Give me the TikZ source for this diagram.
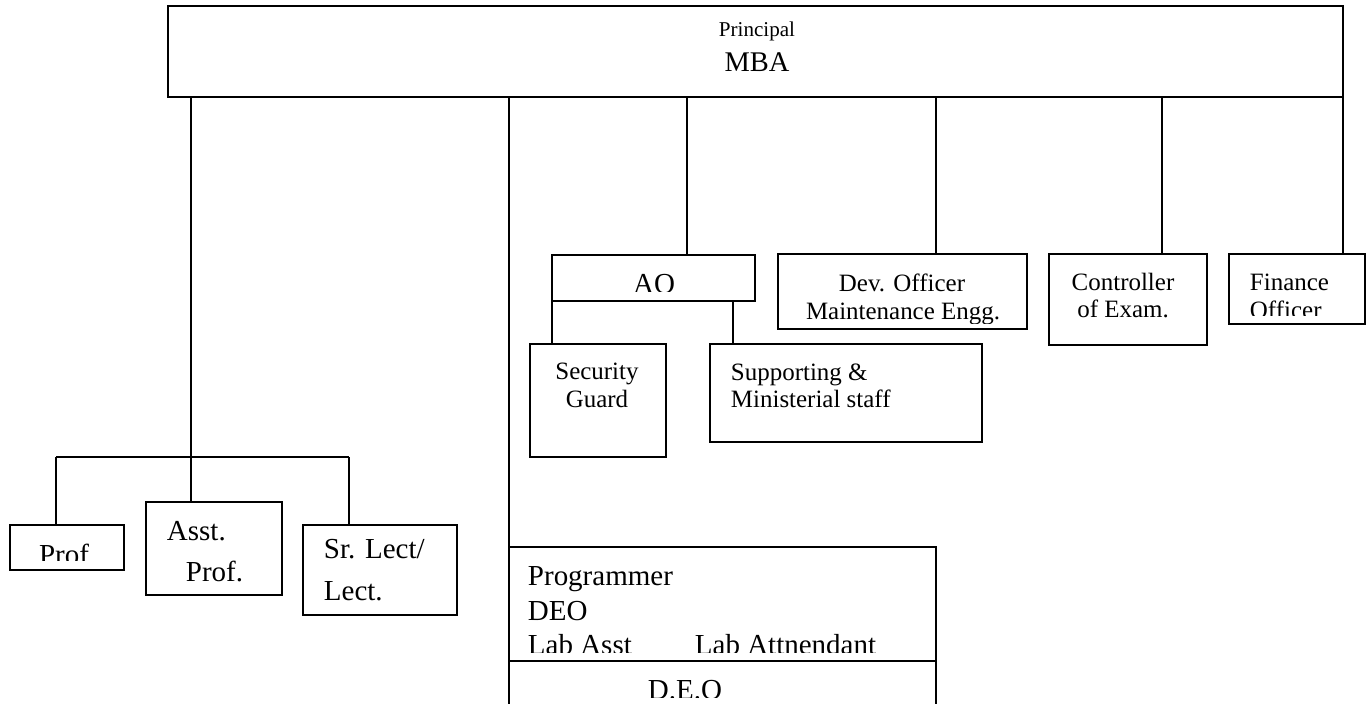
\documentclass[tikz,border=0pt]{standalone}
\usepackage{fontspec}
\setmainfont{Liberation Serif}
\usepackage{tikz}

\newcommand{\bigtxt}{\fontsize{16.5}{19}\selectfont}
\newcommand{\midtxt}{\fontsize{14.2}{17}\selectfont}

\begin{document}
\begin{tikzpicture}[x=0.2mm, y=-0.2mm, line width=1.1pt,
    box/.style={draw, line width=1.1pt, inner sep=0pt, outer sep=0pt, anchor=north west},
    lbl/.style={inner sep=0pt, anchor=base, font=\bigtxt},
    sml/.style={inner sep=0pt, anchor=base, font=\midtxt}]
  \useasboundingbox (0,0) rectangle (1367,704);

  % Principal
  \node[box, minimum width=235mm, minimum height=18.2mm] (mba) at (168,6) {};
  \node[sml, font=\fontsize{12}{14}\selectfont] (mbat1) at (757,37) {Principal};
  \node[lbl, font=\fontsize{16.2}{19}\selectfont] (mbat2) at (757,72) {MBA};

  % Teaching staff
  \node[box, minimum width=22.8mm, minimum height=9mm] (prof) at (10,525) {};
  \node[box, minimum width=27.2mm, minimum height=18.6mm] (asst) at (146,502) {};
  \node[box, minimum width=30.8mm, minimum height=18mm] (lect) at (303,525) {};
  \begin{scope}
    \clip (prof.north west) rectangle (prof.east |- 0,560);
    \node[lbl] (proft) at (64,564) {Prof};
  \end{scope}
  \node[lbl, anchor=base west] (asstt1) at (166,540) {Asst.};
  \node[lbl, anchor=base west] (asstt2) at (185,581) {Prof.};
  \node[lbl, anchor=base west] (lectt1) at (323,558) {Sr. Lect/};
  \node[lbl, anchor=base west] (lectt2) at (323,600) {Lect.};

  % Lab and DEO
  \node[box, minimum width=85.4mm, minimum height=22.8mm] (prog) at (509,547) {};
  \node[box, minimum width=85.4mm, minimum height=11.8mm] (deo) at (509,661) {};
  \node[lbl, anchor=base west] (progt1) at (527,585) {Programmer};
  \node[lbl, anchor=base west] (progt2) at (527,620) {DEO};
  \begin{scope}
    \clip (prog.north west) rectangle (prog.east |- 0,652);
    \node[lbl, anchor=base west] (progt3) at (527,654) {Lab Asst};
    \node[lbl, anchor=base west] (progt4) at (694,654) {Lab Attnendant};
  \end{scope}
  \begin{scope}
    \clip (deo.north west) rectangle (deo.east |- 0,697);
    \node[lbl] (deot) at (685,699) {D.E.O};
  \end{scope}

  % Office
  \node[box, minimum width=40.6mm, minimum height=9.2mm] (ao) at (552,255) {};
  \node[box, minimum width=27.2mm, minimum height=22.6mm] (guard) at (530,344) {};
  \node[box, minimum width=54.4mm, minimum height=19.6mm] (staff) at (710,344) {};
  \begin{scope}
    \clip (ao.north west) rectangle (ao.east |- 0,291);
    \node[lbl] (aot) at (654,293) {AO};
  \end{scope}
  \node[sml] (guardt1) at (597,379) {Security};
  \node[sml] (guardt2) at (597,407) {Guard};
  \node[sml, anchor=base west] (stafft1) at (730,380) {Supporting \&};
  \node[sml, anchor=base west] (stafft2) at (730,407) {Ministerial staff};

  % Other officers
  \node[box, minimum width=49.8mm, minimum height=15mm] (dev) at (778,254) {};
  \node[box, minimum width=31.6mm, minimum height=18.2mm] (exam) at (1049,254) {};
  \node[box, minimum width=27.2mm, minimum height=14mm] (fin) at (1229,254) {};
  \node[sml] (devt1) at (902,291) {Dev. Officer};
  \begin{scope}
    \clip (dev.north west) rectangle (dev.east |- 0,323);
    \node[sml] (devt2) at (903,319) {Maintenance Engg.};
  \end{scope}
  \node[sml] (examt1) at (1123,290) {Controller};
  \node[sml] (examt2) at (1123,317) {of Exam.};
  \node[sml, anchor=base west] (fint1) at (1249,290) {Finance};
  \begin{scope}
    \clip (fin.north west) rectangle (fin.east |- 0,315);
    \node[sml, anchor=base west] (fint2) at (1249,318) {Officer};
  \end{scope}

  % connectors
  \coordinate (tbar) at (191,457);
  \coordinate (lbar) at (56,457);
  \coordinate (rbar) at (349,457);
  \coordinate (aodrop) at (687,0);
  \coordinate (staffdrop) at (733,0);
  \coordinate (devdrop) at (936,0);
  \coordinate (examdrop) at (1162,0);
  \draw (mba.south -| tbar) -- (tbar);
  \draw (lbar) -- (rbar);
  \draw (lbar) -- (lbar |- prof.north);
  \draw (tbar) -- (tbar |- asst.north);
  \draw (rbar) -- (rbar |- lect.north);
  \draw (mba.south -| prog.north west) -- (prog.north west);
  \draw (mba.south -| aodrop) -- (ao.north -| aodrop);
  \draw (ao.south west) -- (ao.south west |- guard.north);
  \draw (ao.south -| staffdrop) -- (staff.north -| staffdrop);
  \draw (mba.south -| devdrop) -- (dev.north -| devdrop);
  \draw (mba.south -| examdrop) -- (exam.north -| examdrop);
  \draw (mba.south east) -- (mba.south east |- fin.north);
\end{tikzpicture}
\end{document}
